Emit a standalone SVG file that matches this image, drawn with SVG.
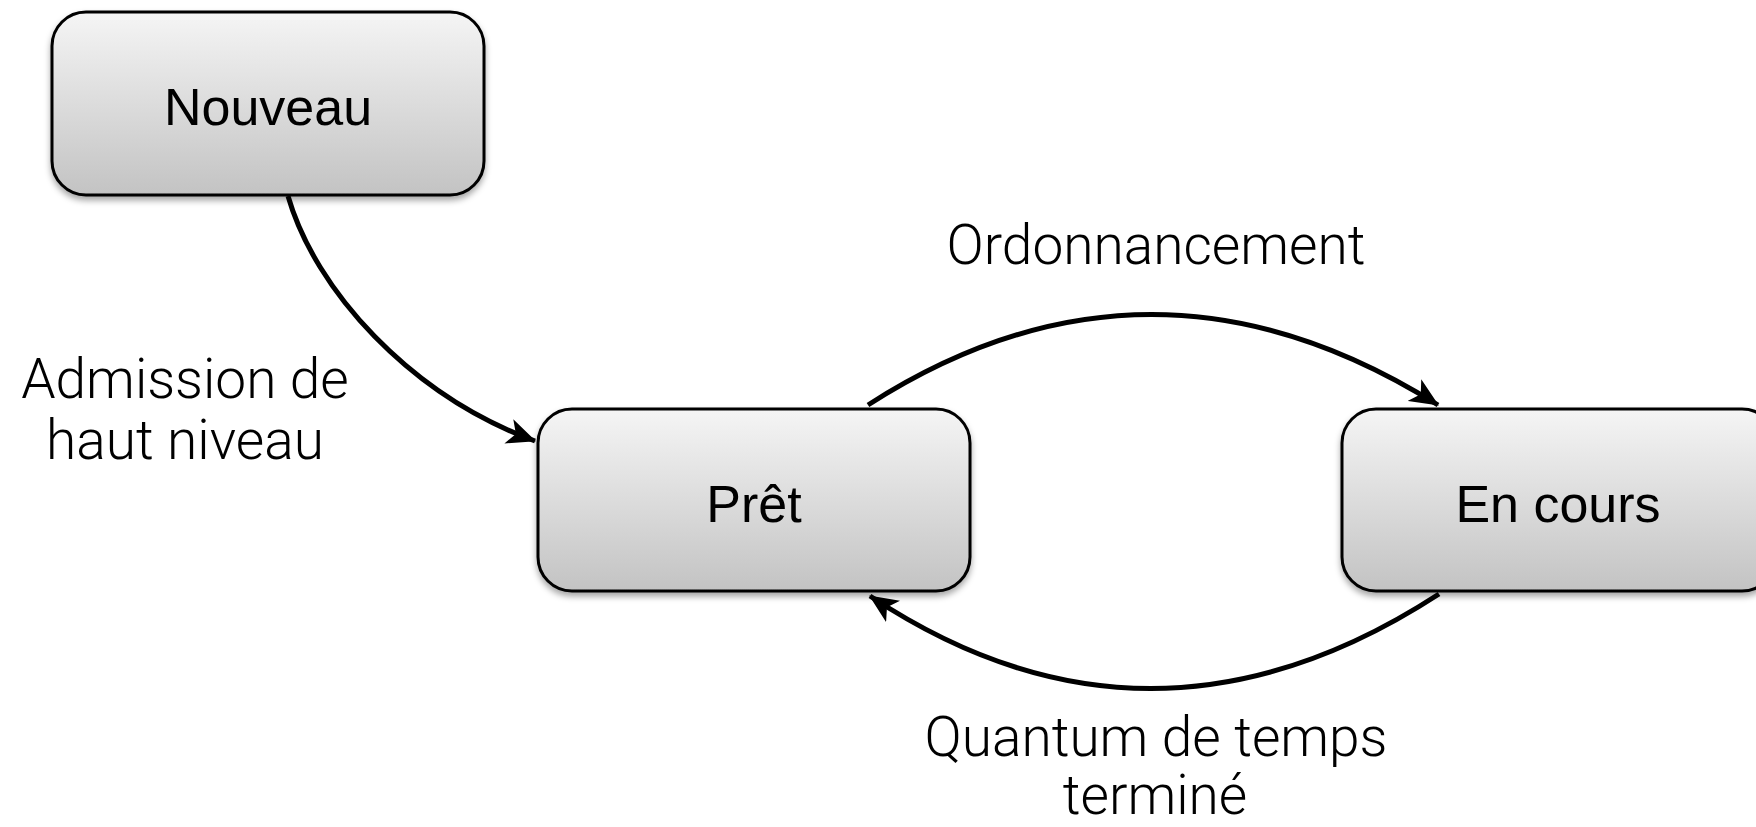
<svg xmlns="http://www.w3.org/2000/svg" width="1756" height="827" viewBox="0 0 1756 827">
<style>
.box{stroke:#000;stroke-width:3;fill:url(#g);filter:url(#sh)}
.nt{font-family:"Liberation Sans",Arial,sans-serif;font-size:52px;fill:#000;text-anchor:middle}
.lb{font-family:Roboto,"Liberation Sans",sans-serif;font-weight:300;font-size:55px;fill:#000;text-anchor:middle}
.c{fill:none;stroke:#000;stroke-width:5}
</style>
<defs>
<linearGradient id="g" x1="0" y1="0" x2="0" y2="1">
<stop offset="0" stop-color="#f5f5f5"/>
<stop offset="1" stop-color="#c3c3c3"/>
</linearGradient>
<filter id="sh" x="-10%" y="-10%" width="120%" height="130%">
<feDropShadow dx="0" dy="4" stdDeviation="3" flood-color="#000" flood-opacity="0.35"/>
</filter>
<marker id="ah" markerUnits="userSpaceOnUse" markerWidth="30" markerHeight="26" refX="26" refY="12" orient="auto" viewBox="0 0 28 24">
<path d="M0,0 L27,12 L0,24 L7,12 Z" fill="#000"/>
</marker>
</defs>
<g id="connectors">
<path class="c" d="M288,196 C315,290 410,395 535,441" marker-end="url(#ah)"/>
<path class="c" d="M868,405 Q1150,224 1438,405" marker-end="url(#ah)"/>
<path class="c" d="M1439,594 Q1150,782 870,596" marker-end="url(#ah)"/>
</g>
<g id="nouveau">
<rect class="box" x="52" y="12" width="432" height="183" rx="34"/>
<text class="nt" x="268" y="125">Nouveau</text>
</g>
<g id="pret">
<rect class="box" x="538" y="409" width="432" height="182" rx="34"/>
<text class="nt" x="754" y="522">Prêt</text>
</g>
<g id="encours">
<rect class="box" x="1342" y="409" width="434" height="182" rx="34"/>
<text class="nt" x="1558" y="522">En cours</text>
</g>
<g id="labels">
<text class="lb" x="185" y="398">Admission de</text>
<text class="lb" x="185" y="459">haut niveau</text>
<text class="lb" x="1156" y="264">Ordonnancement</text>
<text class="lb" x="1156" y="756">Quantum de temps</text>
<text class="lb" x="1155" y="814">terminé</text>
</g>
</svg>
